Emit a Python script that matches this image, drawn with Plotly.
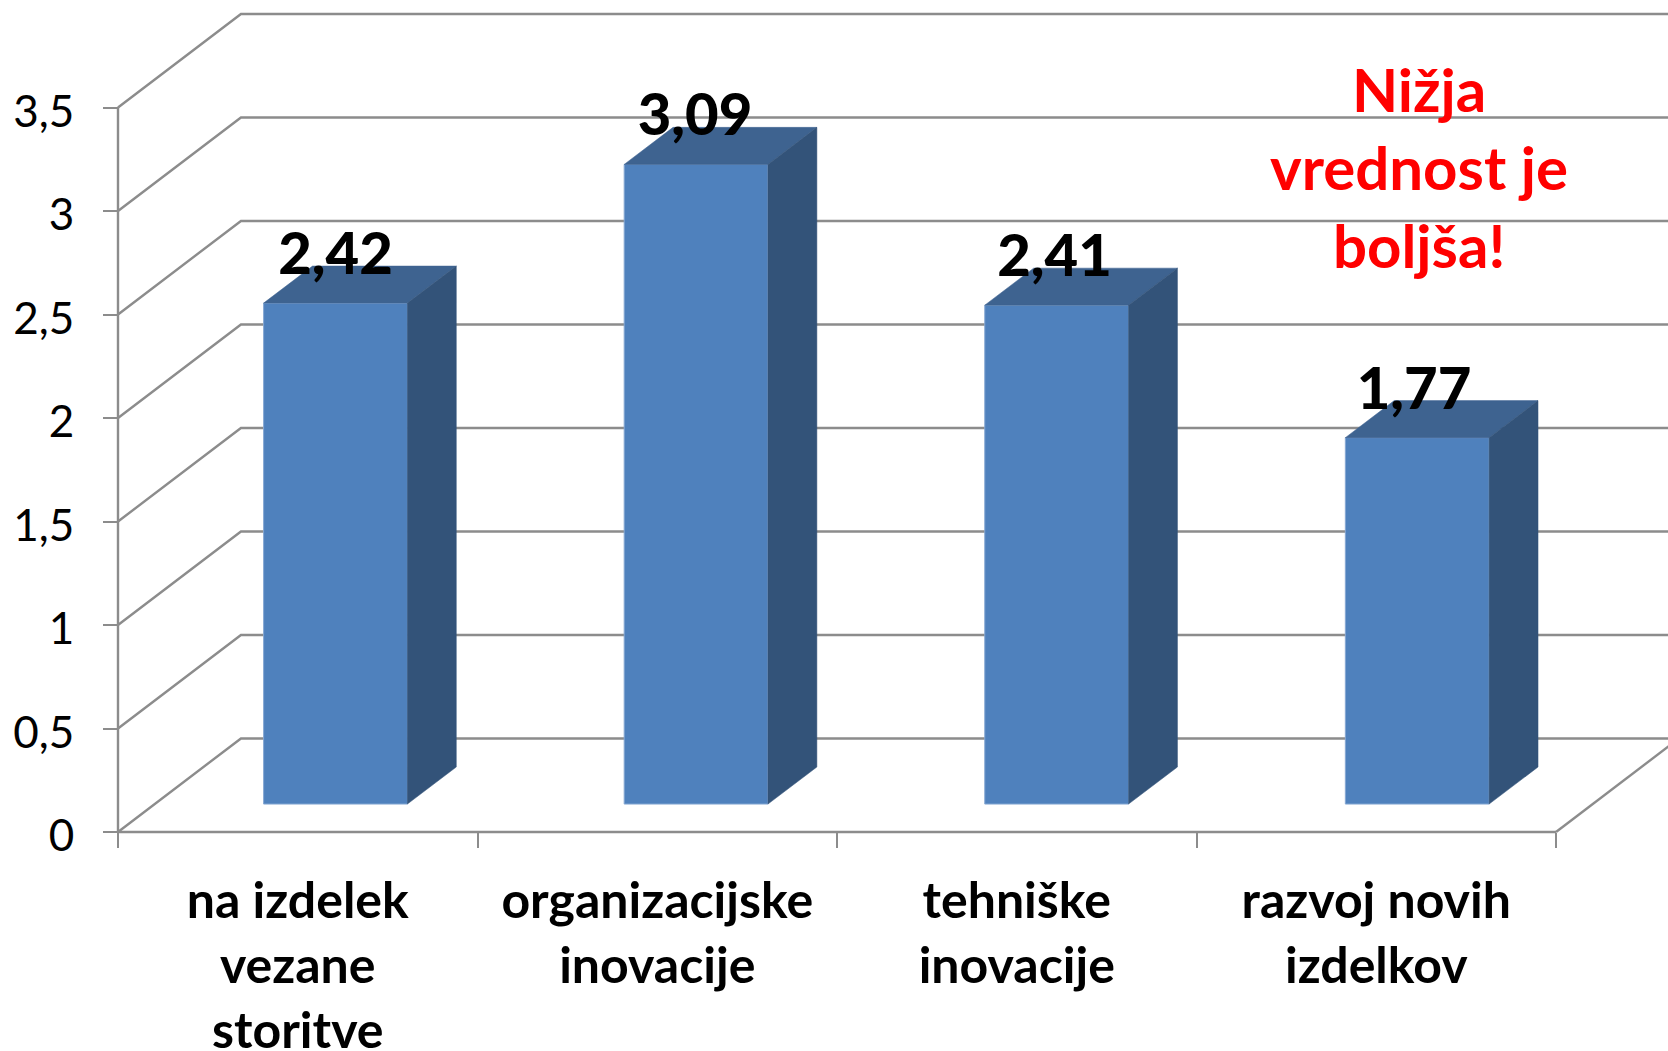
"""3D-look column chart: ocena inovacij (nižja vrednost je boljša)."""

import plotly.graph_objects as go

categories = [
    "na izdelek<br>vezane<br>storitve",
    "organizacijske<br>inovacije",
    "tehniške<br>inovacije",
    "razvoj novih<br>izdelkov",
]
values = [2.42, 3.09, 2.41, 1.77]
value_labels = ["2,42", "3,09", "2,41", "1,77"]
y_ticks = [0, 0.5, 1, 1.5, 2, 2.5, 3, 3.5]
y_tick_labels = ["0", "0,5", "1", "1,5", "2", "2,5", "3", "3,5"]
note = "Nižja<br>vrednost je<br>boljša!"

_FONT = "Lato, Carlito, Arial, sans-serif"
_GRID = "#8C8C8C"
_FRONT = "#4F81BD"
_TOP = "#3E6390"
_SIDE = "#335379"
_LINE = dict(color=_GRID, width=2.4)

# page size and where the axes sit on it, in pixels
W, H = 1668, 1051
AXIS_LEFT, AXIS_BOTTOM = 118, 832
PX_PER_CAT, PX_PER_UNIT = 359.5, 207

# perspective offsets, in axis units
WALL_DX, WALL_DY = 0.342, 0.452
BAR_DX, BAR_DY = 0.136, 0.179
BAR_BASE = 0.135
BAR_WIDTH = 0.40
BAR_SHIFT = 0.605
BAR_STEP = 1.003
LABEL_GAP = 0.21

n = len(categories)
x_range = [-AXIS_LEFT / PX_PER_CAT, (W - AXIS_LEFT) / PX_PER_CAT]
y_range = [-(H - AXIS_BOTTOM) / PX_PER_UNIT, AXIS_BOTTOM / PX_PER_UNIT]

fig = go.Figure()

# walls and floor, drawn underneath the bars
for v in y_ticks:
    fig.add_trace(go.Scatter(
        x=[0, WALL_DX, n + WALL_DX],
        y=[v, v + WALL_DY, v + WALL_DY],
        mode="lines",
        line=_LINE,
        hoverinfo="skip",
    ))
fig.add_trace(go.Scatter(x=[n, n + WALL_DX], y=[0, WALL_DY], mode="lines",
                         line=_LINE, hoverinfo="skip"))
# axis lines: they stop at the last tick, the plot area does not
fig.add_trace(go.Scatter(x=[0, 0], y=[0, y_ticks[-1]], mode="lines",
                         line=_LINE, hoverinfo="skip"))
fig.add_trace(go.Scatter(x=[0, n], y=[0, 0], mode="lines",
                         line=_LINE, hoverinfo="skip"))

centers = [BAR_SHIFT + i * BAR_STEP for i in range(n)]

fig.add_trace(go.Bar(
    x=centers,
    y=values,
    base=BAR_BASE,
    width=BAR_WIDTH,
    yaxis="y2",
    marker=dict(color=_FRONT, line=dict(color="#86A8D3", width=1)),
    hovertemplate="%{y}<extra></extra>",
))

for c, v in zip(centers, values):
    left, right = c - BAR_WIDTH / 2, c + BAR_WIDTH / 2
    top = v + BAR_BASE
    fig.add_trace(go.Scatter(
        x=[left, right, right + BAR_DX, left + BAR_DX, left],
        y=[top, top, top + BAR_DY, top + BAR_DY, top],
        yaxis="y2",
        mode="lines",
        fill="toself",
        fillcolor=_TOP,
        line=dict(color=_TOP, width=0.5),
        hoverinfo="skip",
    ))
    fig.add_trace(go.Scatter(
        x=[right, right + BAR_DX, right + BAR_DX, right, right],
        y=[BAR_BASE, BAR_BASE + BAR_DY, top + BAR_DY, top, BAR_BASE],
        yaxis="y2",
        mode="lines",
        fill="toself",
        fillcolor=_SIDE,
        line=dict(color=_SIDE, width=0.5),
        hoverinfo="skip",
    ))

fig.add_trace(go.Scatter(
    x=[i + BAR_SHIFT for i in range(n)],
    y=[v + BAR_BASE + LABEL_GAP for v in values],
    yaxis="y2",
    mode="text",
    text=value_labels,
    textposition="middle center",
    textfont=dict(family=_FONT, size=58, color="black", weight=900),
    hoverinfo="skip",
))

fig.add_annotation(
    x=3.62, y=3.215, xref="x", yref="y",
    text=note,
    showarrow=False,
    align="center",
    font=dict(family=_FONT, size=60, color="#FF0000", weight="bold"),
)

fig.update_layout(
    width=W,
    height=H,
    margin=dict(l=0, r=0, t=0, b=0, autoexpand=False),
    paper_bgcolor="white",
    plot_bgcolor="white",
    showlegend=False,
    xaxis=dict(
        range=x_range,
        anchor="free",
        position=(H - AXIS_BOTTOM) / H,
        tickvals=[i + 0.5 for i in range(n)],
        ticktext=categories,
        ticks="",
        ticklabelstandoff=35,
        tickfont=dict(family=_FONT, size=50, color="black", weight="bold"),
        showgrid=False,
        zeroline=False,
        showline=False,
        minor=dict(tickvals=list(range(n + 1)), ticks="outside", ticklen=15,
                   tickwidth=2, tickcolor=_GRID, showgrid=False),
    ),
    yaxis=dict(
        range=y_range,
        anchor="free",
        position=AXIS_LEFT / W,
        tickvals=y_ticks,
        ticktext=y_tick_labels,
        ticks="outside",
        ticklen=15,
        tickwidth=2,
        tickcolor=_GRID,
        ticklabelstandoff=20,
        ticklabelshift=4,
        tickfont=dict(family=_FONT, size=44, color="black"),
        showgrid=False,
        zeroline=False,
        showline=False,
    ),
    yaxis2=dict(range=y_range, overlaying="y", visible=False),
)

fig.write_html("out.html", config=dict(displayModeBar=False),
               post_script="document.body.style.margin='0';")
